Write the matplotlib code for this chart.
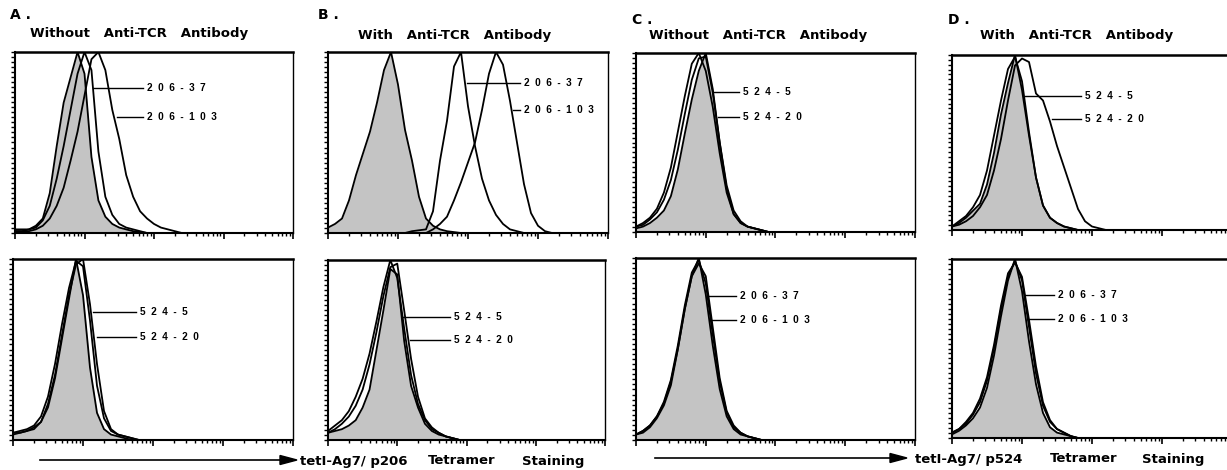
import numpy as np
import matplotlib.pyplot as plt

plt.rcParams['font.family'] = ['DejaVu Sans']

W, H = 1227, 470

# bin centres, in decades of fluorescence (4-decade log axis)
channels = np.round(np.arange(0, 4.05, 0.1), 1)

# --- A: p206 tetramer, without anti-TCR antibody ---
a_top_ctrl = [0.02, 0.02, 0.02, 0.04, 0.08, 0.22, 0.48, 0.72, 0.86, 1.0, 0.88, 0.42, 0.18, 0.09, 0.05, 0.03, 0.02, 0.01, 0.005, 0.0]
a_top_206_37 = [0.01, 0.01, 0.02, 0.03, 0.07, 0.15, 0.30, 0.48, 0.68, 0.88, 1.0, 0.90, 0.45, 0.20, 0.10, 0.05, 0.03, 0.02, 0.01, 0.0]
a_top_206_103 = [0.01, 0.01, 0.01, 0.02, 0.04, 0.08, 0.15, 0.25, 0.40, 0.56, 0.76, 0.96, 1.0, 0.90, 0.68, 0.52, 0.32, 0.20, 0.12, 0.08, 0.05, 0.03, 0.02, 0.01, 0.0]
a_bot_ctrl = [0.04, 0.04, 0.05, 0.06, 0.10, 0.18, 0.34, 0.56, 0.78, 1.0, 0.80, 0.40, 0.15, 0.06, 0.03, 0.02, 0.01, 0.0]
a_bot_524_5 = [0.04, 0.05, 0.06, 0.08, 0.13, 0.24, 0.42, 0.64, 0.84, 0.99, 0.96, 0.66, 0.30, 0.12, 0.05, 0.03, 0.02, 0.01, 0.0]
a_bot_524_20 = [0.03, 0.04, 0.05, 0.07, 0.10, 0.20, 0.36, 0.58, 0.80, 0.97, 1.0, 0.75, 0.42, 0.16, 0.06, 0.03, 0.02, 0.01, 0.0]

# --- B: p206 tetramer, with anti-TCR antibody ---
b_top_ctrl = [0.03, 0.05, 0.08, 0.18, 0.32, 0.44, 0.56, 0.72, 0.90, 1.0, 0.82, 0.57, 0.40, 0.20, 0.08, 0.04, 0.02, 0.01, 0.005, 0.0]
b_top_206_37 = [0, 0, 0, 0, 0, 0, 0, 0, 0, 0, 0, 0, 0.01, 0.015, 0.02, 0.12, 0.40, 0.62, 0.92, 1.0, 0.70, 0.48, 0.30, 0.18, 0.10, 0.05, 0.02, 0.01, 0.0]
b_top_206_103 = [0, 0, 0, 0, 0, 0, 0, 0, 0, 0, 0, 0, 0, 0, 0, 0.02, 0.05, 0.09, 0.18, 0.28, 0.39, 0.50, 0.68, 0.88, 1.0, 0.93, 0.73, 0.50, 0.27, 0.11, 0.04, 0.01, 0.0]
b_bot_ctrl = [0.04, 0.05, 0.06, 0.08, 0.11, 0.18, 0.28, 0.50, 0.72, 0.95, 0.92, 0.55, 0.30, 0.18, 0.09, 0.05, 0.03, 0.02, 0.01, 0.0]
b_bot_524_5 = [0.05, 0.08, 0.11, 0.16, 0.24, 0.34, 0.48, 0.66, 0.85, 1.0, 0.90, 0.62, 0.36, 0.20, 0.11, 0.06, 0.04, 0.02, 0.01, 0.0]
b_bot_524_20 = [0.04, 0.06, 0.09, 0.13, 0.19, 0.28, 0.42, 0.60, 0.80, 0.96, 0.98, 0.72, 0.45, 0.24, 0.12, 0.07, 0.04, 0.02, 0.01, 0.0]

# --- C: p524 tetramer, without anti-TCR antibody ---
c_top_ctrl = [0.02, 0.03, 0.05, 0.08, 0.12, 0.20, 0.35, 0.55, 0.74, 0.90, 1.0, 0.80, 0.50, 0.24, 0.10, 0.05, 0.03, 0.02, 0.01, 0.0]
c_top_524_5 = [0.03, 0.05, 0.08, 0.13, 0.22, 0.36, 0.56, 0.76, 0.94, 1.0, 0.90, 0.70, 0.44, 0.22, 0.10, 0.05, 0.03, 0.02, 0.01, 0.0]
c_top_524_20 = [0.03, 0.04, 0.07, 0.11, 0.18, 0.29, 0.46, 0.66, 0.85, 0.97, 0.98, 0.78, 0.50, 0.26, 0.12, 0.06, 0.03, 0.02, 0.01, 0.0]
c_bot_ctrl = [0.03, 0.04, 0.07, 0.12, 0.19, 0.30, 0.50, 0.72, 0.90, 1.0, 0.80, 0.52, 0.28, 0.13, 0.06, 0.03, 0.02, 0.01, 0.0]
c_bot_206_37 = [0.03, 0.05, 0.08, 0.13, 0.21, 0.33, 0.52, 0.74, 0.92, 0.99, 0.86, 0.58, 0.32, 0.15, 0.07, 0.04, 0.02, 0.01, 0.0]
c_bot_206_103 = [0.03, 0.05, 0.08, 0.13, 0.20, 0.32, 0.50, 0.72, 0.90, 0.97, 0.90, 0.62, 0.34, 0.16, 0.08, 0.04, 0.02, 0.01, 0.0]

# --- D: p524 tetramer, with anti-TCR antibody ---
d_top_ctrl = [0.02, 0.04, 0.07, 0.11, 0.15, 0.26, 0.44, 0.66, 0.84, 1.0, 0.80, 0.54, 0.30, 0.14, 0.07, 0.04, 0.02, 0.01, 0.0]
d_top_524_5 = [0.02, 0.05, 0.08, 0.13, 0.20, 0.34, 0.54, 0.74, 0.92, 0.99, 0.85, 0.56, 0.30, 0.14, 0.07, 0.04, 0.02, 0.01, 0.0]
d_top_524_20 = [0.02, 0.03, 0.05, 0.08, 0.13, 0.20, 0.34, 0.52, 0.74, 0.94, 0.98, 0.96, 0.78, 0.74, 0.62, 0.48, 0.36, 0.24, 0.12, 0.05, 0.02, 0.01, 0.0]
d_bot_ctrl = [0.02, 0.04, 0.07, 0.11, 0.17, 0.28, 0.46, 0.68, 0.88, 1.0, 0.82, 0.54, 0.30, 0.14, 0.06, 0.03, 0.02, 0.01, 0.0]
d_bot_206_37 = [0.03, 0.05, 0.08, 0.13, 0.20, 0.32, 0.50, 0.72, 0.90, 0.99, 0.88, 0.62, 0.36, 0.18, 0.09, 0.05, 0.03, 0.01, 0.0]
d_bot_206_103 = [0.03, 0.05, 0.09, 0.14, 0.22, 0.34, 0.52, 0.74, 0.92, 0.98, 0.90, 0.66, 0.40, 0.20, 0.10, 0.05, 0.03, 0.01, 0.0]

panel_letters = ["A .", "B .", "C .", "D ."]
panel_titles = ["Without   Anti-TCR   Antibody", "With   Anti-TCR   Antibody",
                "Without   Anti-TCR   Antibody", "With   Anti-TCR   Antibody"]


def px_rect(x0, y0, x1, y1):
    return [x0 / W, 1 - y1 / H, (x1 - x0) / W, (y1 - y0) / H]


def draw_panel(ax, ctrl, curves, names, pointers, text_x):
    # shaded control histogram
    x = channels[:len(ctrl)]
    ax.fill_between(x, ctrl, color="#c4c4c4", lw=0, zorder=1)
    ax.plot(x, ctrl, color="black", lw=1.3, zorder=2)
    for y in curves:
        ax.plot(channels[:len(y)], y, color="black", lw=1.3, zorder=3)

    # labels with leader lines (axes fraction)
    for name, (x0, y0) in zip(names, pointers):
        ax.plot([x0, text_x - 0.015], [y0, y0], color="black", lw=1.0,
                transform=ax.transAxes, zorder=4)
        ax.text(text_x, y0, "  ".join(name), transform=ax.transAxes,
                fontsize=7.2, fontweight="bold", va="center", ha="left",
                family="Liberation Sans")

    ax.set_xlim(0, 4)
    ax.set_ylim(0, 1.0)
    major = [0, 1, 2, 3, 4]
    minor = [d + np.log10(k) for d in range(4) for k in range(2, 10)]
    ax.set_xticks(major)
    ax.set_xticks(minor, minor=True)
    ax.set_yticks(np.linspace(0, 1, 37))
    ax.tick_params(axis="x", which="major", length=4, width=1.2, direction="out")
    ax.tick_params(axis="x", which="minor", length=2.5, width=1.0, direction="out")
    ax.tick_params(axis="y", length=3, width=1.0, direction="out")
    ax.tick_params(labelbottom=False, labelleft=False)
    for side, lw in (("top", 1.8), ("left", 1.5), ("bottom", 1.5), ("right", 1.0)):
        ax.spines[side].set_linewidth(lw)


fig = plt.figure(figsize=(W / 100, H / 100), dpi=100)

panels = [
    (px_rect(15, 52, 293, 233), a_top_ctrl, [a_top_206_37, a_top_206_103], ["206-37", "206-103"],
     [(0.28, 0.80), (0.367, 0.64)], 0.475),
    (px_rect(13, 259, 293, 440), a_bot_ctrl, [a_bot_524_5, a_bot_524_20], ["524-5", "524-20"],
     [(0.286, 0.707), (0.30, 0.57)], 0.454),
    (px_rect(328, 52, 608, 233), b_top_ctrl, [b_top_206_37, b_top_206_103], ["206-37", "206-103"],
     [(0.496, 0.83), (0.66, 0.68)], 0.70),
    (px_rect(328, 260, 605, 440), b_bot_ctrl, [b_bot_524_5, b_bot_524_20], ["524-5", "524-20"],
     [(0.271, 0.683), (0.296, 0.556)], 0.455),
    (px_rect(636, 53, 915, 232), c_top_ctrl, [c_top_524_5, c_top_524_20], ["524-5", "524-20"],
     [(0.276, 0.78), (0.294, 0.64)], 0.384),
    (px_rect(636, 258, 915, 440), c_bot_ctrl, [c_bot_206_37, c_bot_206_103], ["206-37", "206-103"],
     [(0.262, 0.79), (0.272, 0.66)], 0.373),
    (px_rect(952, 55, 1232, 230), d_top_ctrl, [d_top_524_5, d_top_524_20], ["524-5", "524-20"],
     [(0.26, 0.766), (0.357, 0.634)], 0.475),
    (px_rect(952, 259, 1232, 438), d_bot_ctrl, [d_bot_206_37, d_bot_206_103], ["206-37", "206-103"],
     [(0.26, 0.80), (0.268, 0.665)], 0.378),
]

for rect, ctrl, curves, names, pointers, text_x in panels:
    ax = fig.add_axes(rect)
    draw_panel(ax, ctrl, curves, names, pointers, text_x)

# panel letters and titles (pixel positions)
letter_pos = [(10, 15), (318, 15), (632, 20), (948, 20)]
title_pos = [(30, 34), (358, 35), (649, 36), (980, 36)]
for letter, (lx, ly), title, (tx, ty) in zip(panel_letters, letter_pos, panel_titles, title_pos):
    fig.text(lx / W, 1 - ly / H, letter, fontsize=10, fontweight="bold", va="center", ha="left")
    fig.text(tx / W, 1 - ty / H, title, fontsize=9.5, fontweight="bold", va="center", ha="left")

# axis arrows with tetramer labels
arrows = [((40, 297, 460), ["tetI-Ag7/ p206", "Tetramer", "Staining"], [300, 428, 522]),
          ((655, 907, 458), ["tetI-Ag7/ p524", "Tetramer", "Staining"], [915, 1050, 1142])]
for (x0, x1, y), words, wx in arrows:
    fig.add_artist(plt.Line2D([x0 / W, (x1 - 14) / W], [1 - y / H, 1 - y / H], color="black", lw=1.2))
    fig.patches.append(plt.Polygon([[(x1 - 17) / W, 1 - (y - 4.5) / H], [x1 / W, 1 - y / H],
                                    [(x1 - 17) / W, 1 - (y + 4.5) / H]], closed=True,
                                   color="black", transform=fig.transFigure))
    for word, px in zip(words, wx):
        fig.text(px / W, 1 - (y + 1) / H, word, fontsize=9.5, fontweight="bold", va="center", ha="left")

fig.savefig("out.png", dpi=100)
